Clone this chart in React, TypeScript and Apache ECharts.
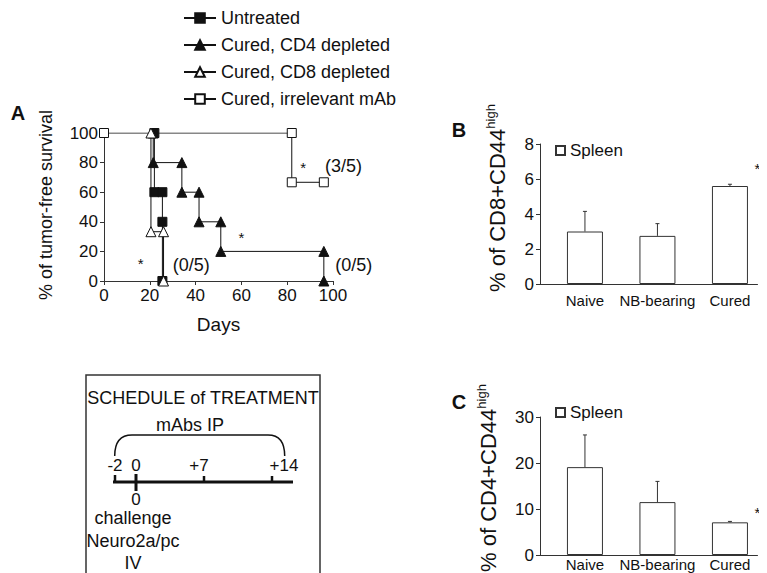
import React, { useEffect, useRef } from 'react';
import * as echarts from 'echarts';

const FONT = "'Liberation Sans', Arial, Helvetica, sans-serif";
const INK = '#111';
const AXIS = '#333';

// ---------- Panel A : tumor-free survival ----------
const seriesNames = ['Untreated', 'Cured, CD4 depleted', 'Cured, CD8 depleted', 'Cured, irrelevant mAb'];
const untreated = [[22, 100], [22, 60], [25.5, 60], [25.5, 40], [25.5, 0]];
const cd4Depleted = [[21.5, 100], [21.5, 80], [34, 80], [34, 60], [41.5, 60], [41.5, 40], [51, 40], [51, 20], [96, 20], [96, 0]];
const cd8Depleted = [[20.5, 100], [20.5, 33.3], [26, 33.3], [26, 0]];
const irrelevantMab = [[0, 100], [82, 100], [82, 66.7], [96, 66.7]];
const daysTicks = { min: 0, max: 100, interval: 20 };
const survivalTicks = { min: 0, max: 100, interval: 20 };
const survivalNotes = [
  { x: 87, y: 77, text: '*', align: 'center' },
  { x: 96.5, y: 77.5, text: '(3/5)', align: 'left' },
  { x: 60, y: 29.5, text: '*', align: 'center' },
  { x: 16, y: 11.5, text: '*', align: 'center' },
  { x: 30, y: 11, text: '(0/5)', align: 'left' },
  { x: 101, y: 11, text: '(0/5)', align: 'left' },
];

// ---------- Panels B and C : bars ----------
const groups = ['Naive', 'NB-bearing', 'Cured'];
const cd8Pct = [3.0, 2.75, 5.6];
const cd8Upper = [4.15, 3.45, 5.7];
const cd4Pct = [19.1, 11.5, 7.1];
const cd4Upper = [26.1, 16.0, 7.3];
const cd8Ticks = { min: 0, max: 8, interval: 2 };
const cd4Ticks = { min: 0, max: 30, interval: 10 };
const cd8Star = { y: 6.6, text: '*' };
const cd4Star = { y: 9.3, text: '*' };

// ---------- Schedule ----------
const scheduleDays = ['-2', '0', '+7', '+14'];

const BAR_OFFSET = 0.62; // bar centre inside each unit of the value x-axis

export default function App() {
  const ref = useRef<HTMLDivElement>(null);
  useEffect(() => {
    if (!ref.current) return;
    const chart = echarts.init(ref.current, undefined, { renderer: 'svg' });

    const axisCommon = {
      axisLine: { show: true, lineStyle: { color: AXIS, width: 1 } },
      axisTick: { show: true, length: 4, lineStyle: { color: AXIS } },
      splitLine: { show: false },
      axisLabel: { color: INK, fontFamily: FONT, fontSize: 17, margin: 6 },
    };

    const lineSeries = (name: string, data: number[][], symbol: string, filled: boolean, size: number) => ({
      type: 'line',
      name,
      xAxisIndex: 0,
      yAxisIndex: 0,
      data,
      symbol,
      symbolSize: size,
      showAllSymbol: true,
      lineStyle: { color: INK, width: 1 },
      itemStyle: { color: filled ? INK : '#fff', borderColor: INK, borderWidth: 1 },
      z: filled ? 3 : 4,
    });

    const barX = (i: number) => i + BAR_OFFSET;
    const barSeries = (idx: number, values: number[]) => ({
      type: 'bar',
      name: 'Spleen',
      xAxisIndex: idx,
      yAxisIndex: idx,
      barWidth: 36,
      data: values.map((v, i) => [barX(i), v]),
      itemStyle: { color: '#fff', borderColor: AXIS, borderWidth: 1 },
      z: 2,
    });
    const errSeries = (idx: number, values: number[], upper: number[]) => ({
      type: 'custom',
      xAxisIndex: idx,
      yAxisIndex: idx,
      data: values.map((v, i) => [barX(i), v, upper[i]]),
      renderItem: (_p: any, api: any) => {
        const a = api.coord([api.value(0), api.value(1)]);
        const b = api.coord([api.value(0), api.value(2)]);
        return {
          type: 'group',
          children: [
            { type: 'line', shape: { x1: a[0], y1: a[1], x2: b[0], y2: b[1] }, style: { stroke: AXIS, lineWidth: 1 } },
            { type: 'line', shape: { x1: b[0] - 2, y1: b[1], x2: b[0] + 2, y2: b[1] }, style: { stroke: AXIS, lineWidth: 1 } },
          ],
        };
      },
      z: 5,
    });
    const starSeries = (idx: number, star: { y: number; text: string }) => ({
      type: 'scatter',
      xAxisIndex: idx,
      yAxisIndex: idx,
      symbolSize: 0,
      clip: false,
      silent: true,
      itemStyle: { opacity: 1 },
      data: [{ value: [groups.length, star.y], label: { formatter: star.text } }],
      label: { show: true, position: 'inside', color: INK, fontFamily: FONT, fontSize: 15 },
    });

    const barXAxis = (gridIndex: number, margin: number) => ({
      type: 'value',
      gridIndex,
      min: 0,
      max: groups.length,
      axisLine: { show: true, lineStyle: { color: AXIS, width: 1 } },
      axisTick: { show: false },
      splitLine: { show: false },
      axisLabel: {
        color: INK,
        fontFamily: FONT,
        fontSize: 15,
        margin,
        customValues: groups.map((_, i) => barX(i)),
        formatter: (v: number) => groups[Math.round(v - BAR_OFFSET)] ?? '',
      },
    });

    const rotLabel = (x: number, y: number, main: string, sup: string, size: number) => ({
      type: 'text',
      x,
      y,
      rotation: Math.PI / 2,
      style: {
        text: sup ? `{m|${main}}{s|${sup}}` : `{m|${main}}`,
        align: 'center',
        verticalAlign: 'middle',
        fill: INK,
        rich: {
          m: { fontFamily: FONT, fontSize: size, fill: INK, lineHeight: size + 4 },
          s: { fontFamily: FONT, fontSize: Math.round(size * 0.6), fill: INK, verticalAlign: 'top', lineHeight: size + 4 },
        },
      },
    });

    const txt = (x: number, y: number, text: string, size = 18, align = 'center', weight = 'normal') => ({
      type: 'text',
      x,
      y,
      style: { text, fontFamily: FONT, fontSize: size, fontWeight: weight, fill: INK, align, verticalAlign: 'middle' },
    });
    const seg = (x1: number, y1: number, x2: number, y2: number, w = 1.5) => ({
      type: 'line',
      shape: { x1, y1, x2, y2 },
      style: { stroke: INK, lineWidth: w },
    });

    const dayX = [107, 128, 191, 276];
    const tickX = [107, 128, 196, 264];

    const option: any = {
      animation: false,
      backgroundColor: '#fff',
      textStyle: { fontFamily: FONT },
      grid: [
        { left: 96, top: 125, width: 229, height: 148, outerBoundsMode: 'none' },
        { left: 532, top: 136, width: 217.5, height: 140, outerBoundsMode: 'none' },
        { left: 532, top: 409, width: 217.5, height: 138, outerBoundsMode: 'none' },
      ],
      xAxis: [
        { type: 'value', gridIndex: 0, ...daysTicks, ...axisCommon },
        barXAxis(1, 9),
        barXAxis(2, 2),
      ],
      yAxis: [
        { type: 'value', gridIndex: 0, ...survivalTicks, ...axisCommon },
        { type: 'value', gridIndex: 1, ...cd8Ticks, ...axisCommon },
        { type: 'value', gridIndex: 2, ...cd4Ticks, ...axisCommon },
      ],
      legend: [
        {
          orient: 'vertical',
          left: 175,
          top: 1,
          padding: 0,
          itemWidth: 32,
          itemHeight: 12,
          itemGap: 9,
          data: seriesNames,
          textStyle: { color: INK, fontFamily: FONT, fontSize: 18, lineHeight: 18 },
          selectedMode: false,
        },
        {
          left: 547,
          top: 134,
          padding: 0,
          itemWidth: 9,
          itemHeight: 9,
          data: [{ name: 'Spleen', icon: 'rect' }],
          textStyle: { color: INK, fontFamily: FONT, fontSize: 17 },
          selectedMode: false,
        },
        {
          left: 547,
          top: 396,
          padding: 0,
          itemWidth: 9,
          itemHeight: 9,
          data: [{ name: 'Spleen', icon: 'rect' }],
          textStyle: { color: INK, fontFamily: FONT, fontSize: 17 },
          selectedMode: false,
        },
      ],
      series: [
        lineSeries(seriesNames[0], untreated, 'rect', true, 9),
        lineSeries(seriesNames[1], cd4Depleted, 'triangle', true, 10),
        lineSeries(seriesNames[2], cd8Depleted, 'triangle', false, 10),
        lineSeries(seriesNames[3], irrelevantMab, 'rect', false, 9),
        {
          type: 'scatter',
          xAxisIndex: 0,
          yAxisIndex: 0,
          symbolSize: 0,
          clip: false,
          silent: true,
          itemStyle: { opacity: 1 },
          data: survivalNotes.map((n) => ({
            value: [n.x, n.y],
            label: { formatter: n.text, align: n.align, fontSize: n.text === '*' ? 15 : 18 },
          })),
          label: { show: true, position: 'inside', color: INK, fontFamily: FONT },
        },
        barSeries(1, cd8Pct),
        errSeries(1, cd8Pct, cd8Upper),
        starSeries(1, cd8Star),
        barSeries(2, cd4Pct),
        errSeries(2, cd4Pct, cd4Upper),
        starSeries(2, cd4Star),
      ],
      graphic: [
        txt(10, 105, 'A', 20, 'center', 'bold'),
        txt(451, 122, 'B', 20, 'center', 'bold'),
        txt(451, 394, 'C', 20, 'center', 'bold'),
        txt(210.5, 316, 'Days', 19),
        rotLabel(38, 197, '% of tumor-free survival', '', 18),
        rotLabel(489, 190, '% of CD8+CD44', 'high', 22),
        rotLabel(480, 470, '% of CD4+CD44', 'high', 22),
        // schedule box
        { type: 'rect', shape: { x: 78, y: 367, width: 234, height: 203 }, style: { fill: 'none', stroke: AXIS, lineWidth: 1.5 } },
        txt(195, 390, 'SCHEDULE of TREATMENT', 18),
        txt(182, 417, 'mAbs IP', 18),
        { type: 'bezierCurve', shape: { x1: 106.7, y1: 448, cpx1: 106.7, cpy1: 427, x2: 124, y2: 427 }, style: { stroke: INK, lineWidth: 1.5, fill: 'none' } },
        seg(124, 427, 260, 427),
        { type: 'bezierCurve', shape: { x1: 260, y1: 427, cpx1: 276.7, cpy1: 427, x2: 276.7, y2: 448 }, style: { stroke: INK, lineWidth: 1.5, fill: 'none' } },
        ...scheduleDays.map((d, i) => txt(dayX[i], 457, d, 17)),
        seg(105, 474, 285, 474, 3),
        seg(tickX[0], 467, tickX[0], 474, 2.5),
        seg(tickX[1], 466, tickX[1], 483, 3),
        seg(tickX[2], 468, tickX[2], 474, 2.5),
        seg(tickX[3], 468, tickX[3], 474, 2.5),
        txt(128, 491, '0', 17),
        txt(125, 510, 'challenge', 18),
        txt(125, 533, 'Neuro2a/pc', 18),
        txt(125, 555, 'IV', 18),
      ],
    };
    chart.setOption(option);
    return () => chart.dispose();
  }, []);
  return <div ref={ref} style={{ width: 767, height: 573 }} />;
}
